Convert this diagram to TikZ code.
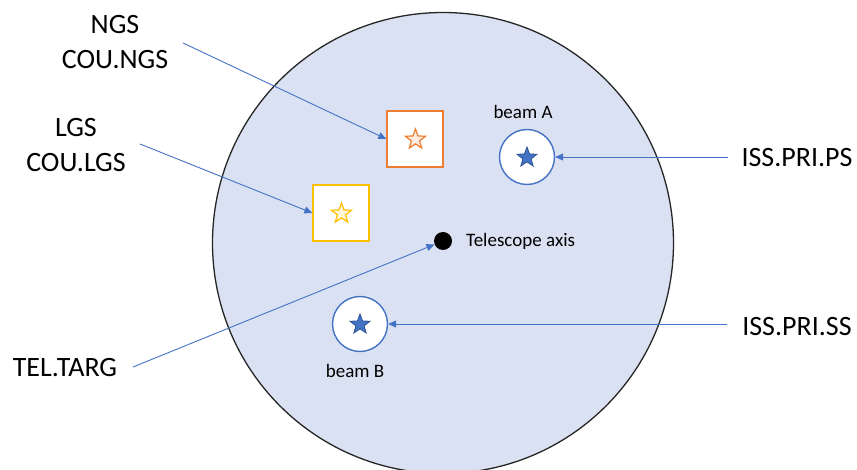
\documentclass[tikz,border=0pt]{standalone}
\usepackage{fontspec}
\setmainfont{Carlito}
\usetikzlibrary{shapes.geometric,arrows.meta}
\definecolor{fovfill}{HTML}{DAE1F2}
\definecolor{linkblue}{HTML}{4472C4}
\definecolor{stardark}{HTML}{2F5597}
\definecolor{ngsorange}{HTML}{ED7D31}
\definecolor{lgsyellow}{HTML}{FFC000}
\tikzset{
  biglabel/.style={font=\fontsize{28}{35}\selectfont, align=center, inner sep=0pt},
  smalllabel/.style={font=\fontsize{19}{22}\selectfont, inner sep=0pt},
  guidebox/.style={draw=#1, line width=1.4pt, fill=white, minimum size=56pt, inner sep=0pt},
  beam/.style={circle, draw=linkblue, line width=1.4pt, fill=white, minimum size=55pt, inner sep=0pt},
  hollowstar/.style={star, star points=5, star point ratio=2.4, draw=#1, line width=1.2pt, fill=#1!15, minimum size=21pt, inner sep=0pt},
  solidstar/.style={star, star points=5, star point ratio=2.4, draw=stardark, line width=0.8pt, fill=linkblue, minimum size=21pt, inner sep=0pt},
  pointer/.style={draw=linkblue, line width=0.9pt, -{Triangle[length=8pt,width=7pt]}},
}
\begin{document}
\begin{tikzpicture}[x=1pt, y=-1pt]
  \useasboundingbox (0,0) rectangle (857,470);

  % field of view
  \node[circle, draw=black!85, line width=1.3pt, fill=fovfill, minimum size=461pt, inner sep=0pt] (fov) at (443,243) {};

  % telescope axis
  \node[circle, fill=black, minimum size=18pt, inner sep=0pt] (axis) at (443,241) {};
  \node[smalllabel, anchor=west] (axislabel) at (466,241) {Telescope axis};

  % guide stars
  \node[guidebox=ngsorange] (ngs) at (415,139) {};
  \node[hollowstar=ngsorange] (ngsstar) at (415.5,139.5) {};
  \node[guidebox=lgsyellow] (lgs) at (341,213) {};
  \node[hollowstar=lgsyellow] (lgsstar) at (341.5,213.5) {};

  % beams
  \node[beam] (beamA) at (527,157) {};
  \node[solidstar] (starA) at (527,157.5) {};
  \node[smalllabel] (beamAlabel) at (523,112) {beam A};
  \node[beam] (beamB) at (360,324) {};
  \node[solidstar] (starB) at (360,324.5) {};
  \node[smalllabel] (beamBlabel) at (355,371) {beam B};

  % keyword labels
  \node[biglabel] (ngslabel) at (115,42) {NGS\\COU.NGS};
  \node[biglabel] (lgslabel) at (76,145) {LGS\\COU.LGS};
  \node[biglabel] (targlabel) at (65,368) {TEL.TARG};
  \node[biglabel] (pslabel) at (797,158) {ISS.PRI.PS};
  \node[biglabel] (sslabel) at (797,327) {ISS.PRI.SS};

  % connector start points
  \coordinate (ngsfrom) at (183,43);
  \coordinate (lgsfrom) at (140,144);
  \coordinate (targfrom) at (133,367);
  \coordinate (psfrom) at (728,157);
  \coordinate (ssfrom) at (727,324);

  \draw[pointer] (ngsfrom) -- (ngs.west);
  \draw[pointer] (lgsfrom) -- (lgs.west);
  \draw[pointer] (targfrom) -- (axis);
  \draw[pointer] (psfrom) -- (beamA.east);
  \draw[pointer] (ssfrom) -- (beamB.east);
\end{tikzpicture}
\end{document}
